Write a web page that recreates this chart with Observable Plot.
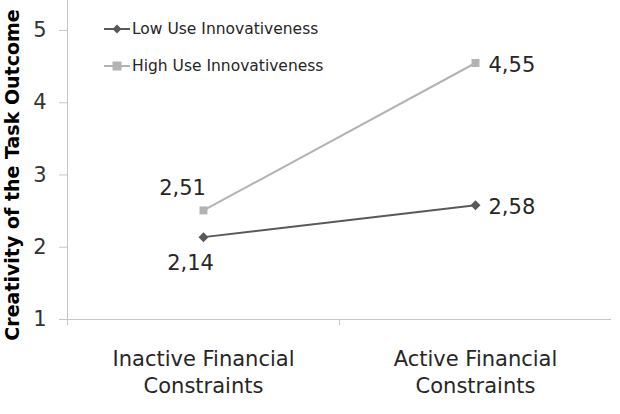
<!DOCTYPE html>
<html><head><meta charset="utf-8">
<script src="https://cdn.jsdelivr.net/npm/d3@7"></script>
<script src="https://cdn.jsdelivr.net/npm/@observablehq/plot@0.6"></script>
<style>
body{margin:0;background:#fff;}
#wrap{position:relative;width:620px;height:414px;font-family:"DejaVu Sans",sans-serif;}
#legend{position:absolute;left:103px;top:10px;font-size:15.5px;color:#262626;}
#legend .item{display:flex;align-items:center;height:37px;}
#legend svg{margin-right:1px;}
</style></head><body><div id="wrap"><div id="legend"></div></div>
<script>
const categories = ["Inactive Financial\nConstraints", "Active Financial\nConstraints"];
const seriesNames = ["Low Use Innovativeness", "High Use Innovativeness"];
const lowValues = [2.14, 2.58];
const highValues = [2.51, 4.55];
const lowLabels = ["2,14", "2,58"];
const highLabels = ["2,51", "4,55"];
const yTicks = [1, 2, 3, 4, 5];
const colors = ["#595959", "#b3b3b3"];
const symbols = ["diamond2", "square"];

const data = [];
categories.forEach((c, i) => {
  data.push({xi: i + 0.5, value: lowValues[i], series: seriesNames[0], label: lowLabels[i], cat: i});
  data.push({xi: i + 0.5, value: highValues[i], series: seriesNames[1], label: highLabels[i], cat: i});
});

const font = "DejaVu Sans";
const plot = Plot.plot({
  width: 620,
  height: 414,
  marginLeft: 67,
  marginRight: 9,
  marginTop: 0,
  marginBottom: 95,
  style: {fontFamily: font, background: "#fff", color: "#262626"},
  x: {domain: [0, 2], axis: null},
  y: {domain: [1, 5.415], axis: null},
  color: {domain: seriesNames, range: colors},
  symbol: {domain: seriesNames, range: symbols},
  marks: [
    Plot.ruleX([0], {stroke: "#c6c6c6", strokeWidth: 1}),
    Plot.ruleY([1], {stroke: "#c6c6c6", strokeWidth: 1}),
    Plot.axisY({ticks: yTicks, tickSize: 8, tickPadding: 13, fontSize: 21, stroke: "#c6c6c6", fill: "#333", tickFormat: d => String(d), label: null}),
    Plot.axisX({ticks: [0, 1], tickSize: 6, tickFormat: () => "", stroke: "#c6c6c6", label: null}),
    Plot.axisX({ticks: [0.5, 1.5], tickSize: 0, tickPadding: 28, fontSize: 21, lineHeight: 1.27, fill: "#262626", tickFormat: d => categories[Math.floor(d)], label: null}),
    Plot.text(["Creativity of the Task Outcome"], {frameAnchor: "left", textAnchor: "middle", rotate: -90, dx: -55, dy: 15, fontWeight: "bold", fontSize: 19, fill: "#000"}),
    Plot.line(data, {x: "xi", y: "value", stroke: "series", z: "series", strokeWidth: 2}),
    Plot.dot(data, {x: "xi", y: "value", fill: "series", symbol: "series", r: 4.5, stroke: null}),
    Plot.text(data.filter(d => d.cat === 1), {x: "xi", y: "value", text: "label", textAnchor: "start", dx: 13, dy: 2, fontSize: 21, fill: "#262626"}),
    Plot.text(data.filter(d => d.cat === 0 && d.series === seriesNames[1]), {x: "xi", y: "value", text: "label", dx: -21, dy: -22, fontSize: 21, fill: "#262626"}),
    Plot.text(data.filter(d => d.cat === 0 && d.series === seriesNames[0]), {x: "xi", y: "value", text: "label", dx: -13, dy: 26, fontSize: 21, fill: "#262626"})
  ]
});
document.getElementById("wrap").appendChild(plot);

const legend = document.getElementById("legend");
seriesNames.forEach((s, i) => {
  const item = document.createElement("div");
  item.className = "item";
  const shape = i === 0
    ? `<path d="M14,6.5 L18.5,11 L14,15.5 L9.5,11 Z" fill="${colors[i]}"/>`
    : `<rect x="9.5" y="6.5" width="9" height="9" fill="${colors[i]}"/>`;
  item.innerHTML = `<svg width="28" height="22"><line x1="1" x2="27" y1="11" y2="11" stroke="${colors[i]}" stroke-width="2"/>${shape}</svg><span>${s}</span>`;
  legend.appendChild(item);
});
</script>
</body></html>
